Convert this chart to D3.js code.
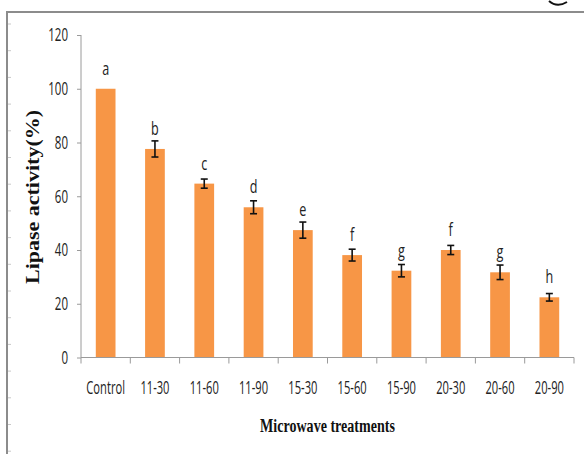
<!DOCTYPE html>
<html>
<head>
<meta charset="utf-8">
<script src="https://cdn.jsdelivr.net/npm/d3@7"></script>
<style>
  html, body { margin: 0; padding: 0; background: #fff; }
  svg { display: block; }
</style>
</head>
<body>
<svg id="chart" width="584" height="454"></svg>
<script>
// Lipase activity after microwave treatments (mean ± error, with significance letters)
const categories = ["Control", "11-30", "11-60", "11-90", "15-30", "15-60", "15-90", "20-30", "20-60", "20-90"];
const activity   = [100, 77.6, 64.7, 55.9, 47.4, 38.1, 32.3, 40.0, 31.7, 22.4];
const errors     = [0, 3.0, 1.7, 2.4, 3.0, 2.2, 2.3, 1.7, 2.7, 1.4];
const letters    = ["a", "b", "c", "d", "e", "f", "g", "f", "g", "h"];
const yTicks     = [0, 20, 40, 60, 80, 100, 120];

const svg = d3.select("#chart");
const W = 584, H = 454;
const plot = { left: 81, right: 574, top: 35, bottom: 357.5 };

const barColor = "#F79646";
const axisColor = "#9a9a9a";
const textColor = "#222";
const sansFont = "'Open Sans', Lato, sans-serif";
const serifFont = "'Liberation Serif', 'Times New Roman', serif";

// squeeze text horizontally to a narrow face, keeping its anchor point
function narrow(sel, k) {
  sel.each(function () {
    const t = d3.select(this);
    const x0 = +t.attr("x") || 0;
    t.attr("x", x0 / k).attr("transform", `scale(${k},1)`);
  });
}

// page frame (top and left edges)
svg.append("path")
  .attr("d", `M7,${H} L7,12 L${W},12`)
  .attr("fill", "none")
  .attr("stroke", "#8c8c8c")
  .attr("stroke-width", 2);

// faint ruler marks along the left edge
const rulerY = d3.range(24, H, 26.7);
svg.append("g").selectAll("line").data(rulerY).join("line")
  .attr("x1", 8).attr("x2", 11)
  .attr("y1", d => d).attr("y2", d => d)
  .attr("stroke", "#c8c8c8").attr("stroke-width", 1);

// glyph fragment at the top-right corner
svg.append("path")
  .attr("d", "M549,1 Q557,8 567,2")
  .attr("fill", "none")
  .attr("stroke", "#111")
  .attr("stroke-width", 2);

const x = d3.scaleBand()
  .domain(categories)
  .range([plot.left, plot.right])
  .paddingInner(0.6)
  .paddingOuter(0.3);

const y = d3.scaleLinear()
  .domain([0, 120])
  .range([plot.bottom, plot.top]);

// bars
const rows = categories.map((c, i) => ({ c, v: activity[i], e: errors[i], l: letters[i] }));

svg.append("g").selectAll("rect").data(rows).join("rect")
  .attr("x", d => x(d.c))
  .attr("y", d => y(d.v))
  .attr("width", x.bandwidth())
  .attr("height", d => y(0) - y(d.v))
  .attr("fill", barColor);

// error bars
const eb = svg.append("g")
  .attr("stroke", "#111")
  .attr("stroke-width", 1.6)
  .selectAll("g").data(rows.filter(d => d.e > 0)).join("g");
const cx = d => x(d.c) + x.bandwidth() / 2;
eb.append("line")
  .attr("x1", cx).attr("x2", cx)
  .attr("y1", d => y(d.v + d.e)).attr("y2", d => y(d.v - d.e));
eb.append("line")
  .attr("x1", d => cx(d) - 3.5).attr("x2", d => cx(d) + 3.5)
  .attr("y1", d => y(d.v + d.e)).attr("y2", d => y(d.v + d.e));
eb.append("line")
  .attr("x1", d => cx(d) - 3.5).attr("x2", d => cx(d) + 3.5)
  .attr("y1", d => y(d.v - d.e)).attr("y2", d => y(d.v - d.e));

// significance letters
svg.append("g").selectAll("text").data(rows).join("text")
  .attr("x", cx)
  .attr("y", d => y(d.v) - 14)
  .attr("text-anchor", "middle")
  .attr("font-family", sansFont)
  .attr("font-size", 18)
  .attr("fill", textColor)
  .text(d => d.l)
  .call(narrow, 0.7);

// y axis
const yAxis = svg.append("g")
  .attr("transform", `translate(${plot.left},0)`)
  .call(d3.axisLeft(y).tickValues(yTicks).tickSize(4).tickPadding(9).tickFormat(d3.format("d")));
yAxis.select(".domain").attr("stroke", axisColor).attr("d", `M0,${plot.top}V${plot.bottom}`);
yAxis.selectAll(".tick line").attr("stroke", axisColor);
yAxis.selectAll(".tick text")
  .attr("font-family", sansFont)
  .attr("font-size", 18)
  .attr("fill", textColor)
  .call(narrow, 0.64);

// x axis: labels under bars, tick marks between categories
const xAxis = svg.append("g")
  .attr("transform", `translate(0,${plot.bottom})`)
  .call(d3.axisBottom(x).tickSize(0).tickPadding(24));
xAxis.select(".domain").attr("stroke", axisColor).attr("d", `M${plot.left},0H${plot.right}`);
xAxis.selectAll(".tick text")
  .attr("font-family", sansFont)
  .attr("font-size", 18)
  .attr("fill", textColor)
  .call(narrow, 0.62);

const bounds = categories.map(c => x(c) + x.bandwidth() / 2 - x.step() / 2)
  .concat([x(categories[categories.length - 1]) + x.bandwidth() / 2 + x.step() / 2]);
xAxis.append("g").selectAll("line").data(bounds).join("line")
  .attr("x1", d => d).attr("x2", d => d)
  .attr("y1", 0).attr("y2", 6)
  .attr("stroke", axisColor);

// axis titles
svg.append("text")
  .attr("transform", `translate(39,197) scale(0.85,1) rotate(-90)`)
  .attr("text-anchor", "middle")
  .attr("font-family", serifFont)
  .attr("font-weight", "bold")
  .attr("font-size", 22)
  .attr("fill", "#111")
  .text("Lipase activity(%)");

svg.append("text")
  .attr("x", (plot.left + plot.right) / 2)
  .attr("y", 432)
  .attr("text-anchor", "middle")
  .attr("font-family", serifFont)
  .attr("font-weight", "bold")
  .attr("font-size", 19)
  .attr("fill", "#111")
  .text("Microwave treatments")
  .call(narrow, 0.74);
</script>
</body>
</html>
